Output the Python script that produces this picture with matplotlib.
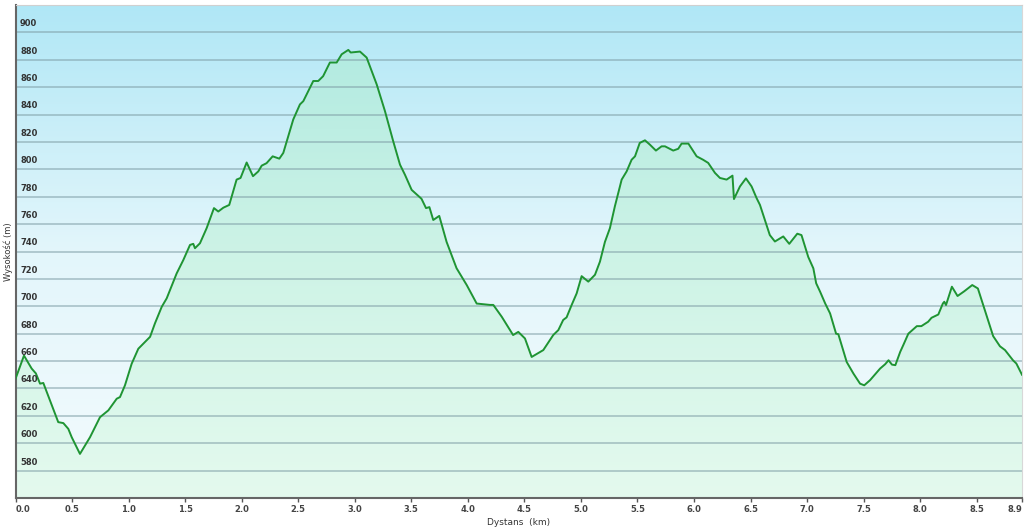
import numpy as np
import matplotlib
matplotlib.use('Agg')
import matplotlib.pyplot as plt
from matplotlib.colors import LinearSegmentedColormap

# elevation profile (km, m)
dist = [0.0, 0.075, 0.143, 0.18, 0.217, 0.246, 0.378, 0.423, 0.467, 0.497, 0.57, 0.659,
        0.747, 0.821, 0.895, 0.924, 0.968, 1.027, 1.086, 1.19, 1.233, 1.293, 1.337, 1.425,
        1.484, 1.543, 1.572, 1.587, 1.631, 1.69, 1.755, 1.793, 1.838, 1.89, 1.955, 1.99,
        2.044, 2.10, 2.147, 2.177, 2.22, 2.274, 2.333, 2.368, 2.456, 2.515, 2.545, 2.633,
        2.677, 2.72, 2.78, 2.84, 2.884, 2.943, 2.964, 3.046, 3.105, 3.194, 3.267, 3.34,
        3.40, 3.444, 3.503, 3.59, 3.63, 3.66, 3.694, 3.747, 3.812, 3.90, 3.99, 4.078,
        4.195, 4.225, 4.30, 4.40, 4.446, 4.505, 4.564, 4.667, 4.755, 4.80, 4.843, 4.873,
        4.918, 4.962, 5.006, 5.065, 5.124, 5.168, 5.212, 5.256, 5.30, 5.36, 5.404, 5.448,
        5.478, 5.52, 5.566, 5.61, 5.663, 5.713, 5.743, 5.816, 5.86, 5.89, 5.95, 6.023,
        6.08, 6.125, 6.185, 6.229, 6.288, 6.34, 6.353, 6.406, 6.459, 6.509, 6.553, 6.583,
        6.67, 6.715, 6.789, 6.842, 6.913, 6.95, 7.01, 7.055, 7.08, 7.115, 7.16, 7.203,
        7.256, 7.276, 7.35, 7.41, 7.468, 7.505, 7.556, 7.645, 7.69, 7.72, 7.75, 7.78,
        7.823, 7.85, 7.895, 7.97, 8.01, 8.07, 8.10, 8.16, 8.20, 8.213, 8.228, 8.28,
        8.33, 8.39, 8.46, 8.51, 8.557, 8.60, 8.645, 8.705, 8.75, 8.82, 8.85, 8.9]
elev = [647, 664, 654.5, 651, 643.5, 644, 615.4, 614.7, 610.5, 604.4, 592.2, 604.4,
        619, 624, 632.5, 633.7, 642.3, 658, 669, 677.7, 687.5, 699.6, 705.8, 724,
        733.8, 744.8, 745.6, 742.4, 746, 757, 771.7, 769.2, 772, 774, 792.5, 793.7,
        805, 795, 798.5, 802.7, 804.5, 809.5, 807.8, 812, 836.4, 847.4, 849.8, 864.5,
        864.5, 868, 878, 878, 884, 887.2, 885.3, 886, 881.6, 862, 842.5, 820.5,
        803.4, 796, 785, 778.5, 771.7, 772.4, 763, 766, 747, 727.8, 715.5, 702,
        701, 701, 692.3, 679, 681.3, 676.5, 663, 668, 679, 682.6, 690, 691.9,
        701, 709.4, 722, 718, 723, 732.6, 747, 757, 773, 792.5, 798.5, 807,
        809.5, 819.3, 821.2, 818, 813.7, 816.8, 816.8, 813.7, 815, 818.8, 818.8, 809.5,
        807, 804.7, 797.4, 793.7, 792.5, 795.4, 778.3, 787.5, 793.4, 787.5, 779, 774,
        752, 747.3, 751, 745.6, 753, 752, 736, 727.7, 716.8, 710.6, 702, 694.8,
        680, 679.6, 659.3, 650.8, 643.5, 642.3, 646, 654.5, 657.7, 660.6, 657.4, 657,
        666.7, 671.6, 680, 685.5, 685.5, 688.7, 691.6, 694, 702, 703.3, 700.9, 714.3,
        707.5, 711, 715.5, 713, 700.9, 690, 678.2, 670.8, 668, 660.6, 658.2, 650]

x_ticks = [0.0, 0.5, 1.0, 1.5, 2.0, 2.5, 3.0, 3.5, 4.0, 4.5, 5.0, 5.5, 6.0, 6.5,
           7.0, 7.5, 8.0, 8.5, 8.9]
y_ticks = list(range(580, 901, 20))

xmin, xmax = 0.0, 8.9
ymin, ymax = 560, 920

fig = plt.figure(figsize=(10.24, 5.31), dpi=100)
ax = fig.add_axes([15.5 / 1024, 1 - 498 / 531, (1022 - 15.5) / 1024, (498 - 5) / 531])
ax.set_xlim(xmin, xmax)
ax.set_ylim(ymin, ymax)

# background gradient (blue top -> near white bottom)
bg = LinearSegmentedColormap.from_list('bg', ['#f3fbfd', '#e3f6fb', '#b0e7f6'])
grad = np.linspace(0, 1, 256).reshape(-1, 1)
ax.imshow(grad, cmap=bg, extent=[xmin, xmax, ymin, ymax], origin='lower',
          aspect='auto', zorder=0)

# fill under the curve, gradient clipped to the area
fillmap = LinearSegmentedColormap.from_list('fl', ['#e4faee', '#cdf3e6', '#ade9e0'])
area = ax.fill_between(dist, elev, ymin, color='none', zorder=1)
img = ax.imshow(grad, cmap=fillmap, extent=[xmin, xmax, ymin, ymax], origin='lower',
                aspect='auto', zorder=1)
path = area.get_paths()[0]
img.set_clip_path(path, transform=ax.transData)

for v in y_ticks:
    ax.axhline(v, color='#7f9ea6', alpha=0.6, lw=1.2, zorder=2)
    ax.text(0.04, v + 3, str(v), fontsize=6, color='#333333', fontweight='bold',
            ha='left', va='bottom', zorder=4)

ax.plot(dist, elev, color='#1f9433', lw=1.4, zorder=3)

ax.set_yticks([])
ax.set_xticks(x_ticks)
labels = ['%.1f' % t for t in x_ticks]
ax.set_xticklabels(labels, fontsize=6, color='#444444', fontweight='bold')
ax.tick_params(axis='x', length=3, width=1, color='#555555', pad=2)
tl = ax.get_xticklabels()
tl[0].set_ha('left')
tl[-1].set_ha('right')

ax.set_xlabel('Dystans  (km)', fontsize=6.5, color='#333333', labelpad=3)
ax.set_ylabel('Wysokość (m)', fontsize=6, color='#333333', labelpad=2)

ax.spines['left'].set_color('#666666')
ax.spines['left'].set_linewidth(1.5)
ax.spines['bottom'].set_color('#666666')
ax.spines['bottom'].set_linewidth(1.5)
ax.spines['top'].set_color('#d0d0d0')
ax.spines['right'].set_color('#d8d8d8')

fig.savefig('out.png', dpi=100)
